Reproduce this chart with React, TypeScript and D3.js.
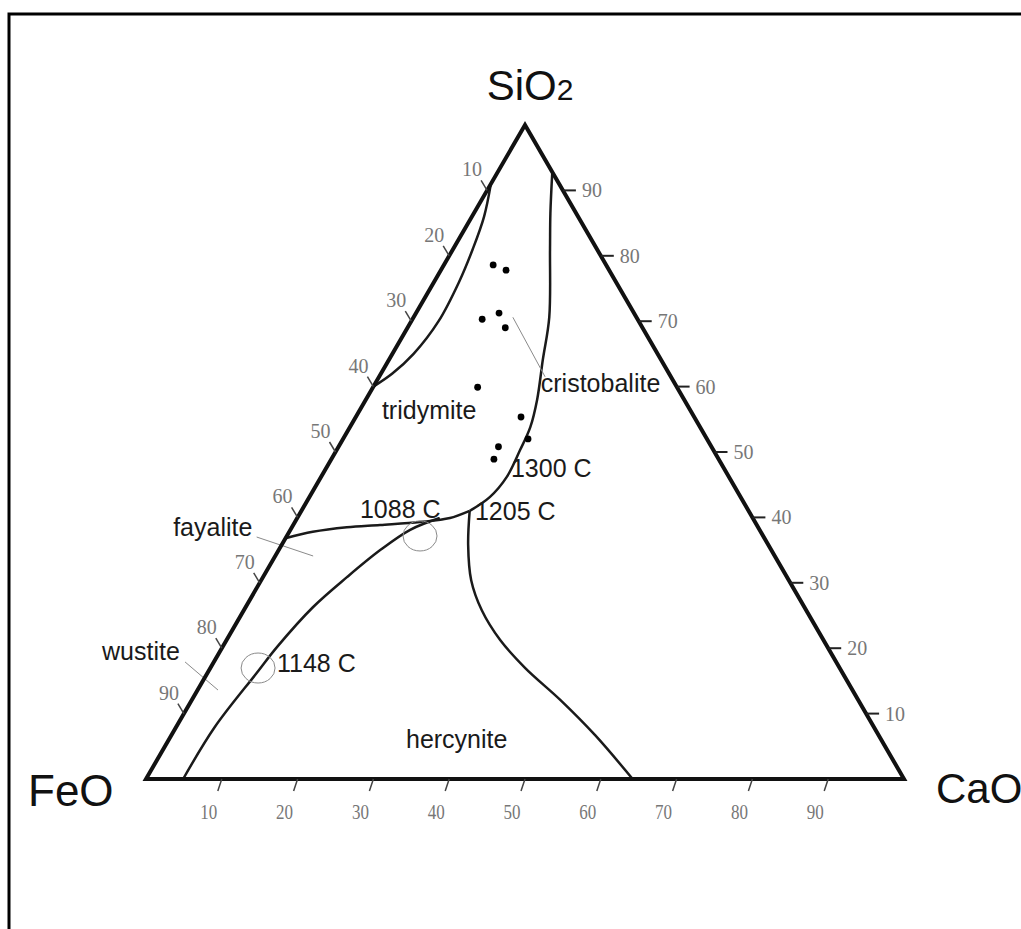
import React from "react";
import * as d3 from "d3";

// ternary compositions are [SiO2, CaO] in wt%, FeO is the rest
const ticks = [10, 20, 30, 40, 50, 60, 70, 80, 90];

const tridymiteLens = [
  [91, 0], [86, 1.6], [81, 2.6], [76, 3.3], [70, 3.6], [65, 2.8], [62, 1.5], [60, 0],
];
const cristobaliteLine = [
  [92.8, 7.2], [86.5, 10.1], [80.9, 12.85], [70.6, 17.9], [64.1, 20.3], [58.0, 22.6], [53.8, 23.8],
  [50.3, 24.2], [46.2, 24.5], [43.1, 23.8], [41.0, 22.2],
];
const fayaliteLine = [
  [36.8, 0], [37.8, 3.1], [38.5, 7.25], [38.85, 11.45], [39.3, 16.5], [39.9, 20.15], [41.0, 22.2],
];
const wustiteLine = [
  [0, 4.9], [7.95, 5.1], [16.2, 6.5], [20.2, 7.2], [26.3, 8.9], [30.9, 11.1], [35.0, 13.4],
  [38.1, 15.8], [39.9, 18.8],
];
const hercyniteLine = [
  [41.0, 22.2], [35.8, 24.6], [30.4, 27.7], [25.8, 31.4], [21.25, 36.1], [17.0, 41.5],
  [12.1, 48.6], [6.7, 55.9], [0, 64.2],
];
const samples = [
  [78.6, 6.5], [77.8, 8.6], [71.25, 10.95], [70.3, 9.2], [69.0, 12.9], [59.9, 13.8],
  [55.35, 21.8], [52.0, 24.4], [50.8, 21.1], [48.9, 21.45],
];
const eutectics = [
  [37.16, 17.57], [16.97, 6.3],
];
const leaders = [
  [[70.6, 13.1], [61.5, 21.9]],
  [[37.0, -3.9], [34.1, 5.0]],
  [[17.9, -3.8], [13.6, 2.7]],
];
const fieldLabels = ["tridymite", "cristobalite", "1300 C", "1205 C", "1088 C", "fayalite", "wustite", "1148 C", "hercynite"];
const fieldAt = [
  [55.05, 3.6], [59.17, 22.5], [46.18, 25.06], [39.6, 23.6], [39.9, 8.28],
  [37.16, -15.0], [18.2, -14.9], [16.36, 9.1], [4.74, 31.93],
];

const W = 1021;
const H = 929;

export default function App() {
  const xs = d3.scaleLinear().domain([0, 100]).range([146, 904]);
  const ys = d3.scaleLinear().domain([0, 100]).range([779, 125]);
  const proj = (p: number[]): [number, number] => [xs(p[1] + p[0] / 2), ys(p[0])];

  const line = d3
    .line<number[]>()
    .x((d) => proj(d)[0])
    .y((d) => proj(d)[1])
    .curve(d3.curveCatmullRom.alpha(0.5));

  const apex = proj([100, 0]);
  const feo = proj([0, 0]);
  const cao = proj([0, 100]);

  const sans = "'Liberation Sans', Arial, sans-serif";
  const serif = "'Liberation Serif', 'Times New Roman', serif";
  const tickGrey = "#777";

  return (
    <svg width={W} height={H} style={{ position: "absolute", left: 0, top: 0, background: "#fff" }}>
      <rect width={W} height={H} fill="#fff" />
      <path d={`M9,${H} L9,14 L${W},14`} fill="none" stroke="#000" strokeWidth={3} />

      {/* inner boundaries */}
      <g fill="none" stroke="#1a1a1a" strokeWidth={2.5}>
        {[tridymiteLens, cristobaliteLine, fayaliteLine, wustiteLine, hercyniteLine].map((c, i) => (
          <path key={i} d={line(c) || ""} />
        ))}
      </g>

      {/* leaders + eutectic rings */}
      <g fill="none" stroke="#8a8a8a" strokeWidth={1}>
        {leaders.map((l, i) => {
          const a = proj(l[0]);
          const b = proj(l[1]);
          return <line key={i} x1={a[0]} y1={a[1]} x2={b[0]} y2={b[1]} />;
        })}
        {eutectics.map((e, i) => {
          const [cx, cy] = proj(e);
          return <ellipse key={i} cx={cx} cy={cy} rx={17} ry={15} />;
        })}
      </g>

      {/* triangle */}
      <path
        d={`M${feo[0]},${feo[1]} L${apex[0]},${apex[1]} L${cao[0]},${cao[1]} Z`}
        fill="none"
        stroke="#111"
        strokeWidth={4}
        strokeLinejoin="miter"
      />

      {/* ticks: left edge (FeO), right edge (SiO2), base (CaO) */}
      <g fontFamily={serif} fontSize={20} fill={tickGrey}>
        {ticks.map((t) => {
          const [x, y] = proj([100 - t, 0]);
          return (
            <g key={"l" + t}>
              <line x1={x} y1={y} x2={x - 6} y2={y - 10} stroke="#444" strokeWidth={1.5} />
              <text x={x - 15} y={y - 14} textAnchor="middle">{t}</text>
            </g>
          );
        })}
        {ticks.map((t) => {
          const [x, y] = proj([t, 100 - t]);
          return (
            <g key={"r" + t}>
              <line x1={x} y1={y} x2={x + 13} y2={y} stroke="#222" strokeWidth={2} />
              <text x={x + 19} y={y + 7}>{t}</text>
            </g>
          );
        })}
        {ticks.map((t) => {
          const [x, y] = proj([0, t]);
          return (
            <g key={"b" + t}>
              <line x1={x} y1={y} x2={x - 4} y2={y + 12} stroke="#444" strokeWidth={1.5} />
              <text x={x - 13} y={y + 40} textAnchor="middle" transform={`translate(${x - 13},0) scale(0.85,1) translate(${-(x - 13)},0)`}>
                {t}
              </text>
            </g>
          );
        })}
      </g>

      {/* sample points */}
      <g fill="#000">
        {samples.map((p, i) => {
          const [cx, cy] = proj(p);
          return <circle key={i} cx={cx} cy={cy} r={3.4} />;
        })}
      </g>

      {/* field labels */}
      <g fontFamily={sans} fontSize={25} fill="#1a1a1a">
        {fieldLabels.map((t, i) => {
          const [x, y] = proj(fieldAt[i]);
          return (
            <text key={t} x={x} y={y}>
              {t}
            </text>
          );
        })}
      </g>

      {/* apices */}
      <g fontFamily={sans} fill="#111">
        <text x={530} y={100} fontSize={42} textAnchor="middle">
          SiO<tspan fontSize={30}>2</tspan>
        </text>
        <text x={28} y={806} fontSize={44}>FeO</text>
        <text x={936} y={803} fontSize={42}>CaO</text>
      </g>
    </svg>
  );
}
